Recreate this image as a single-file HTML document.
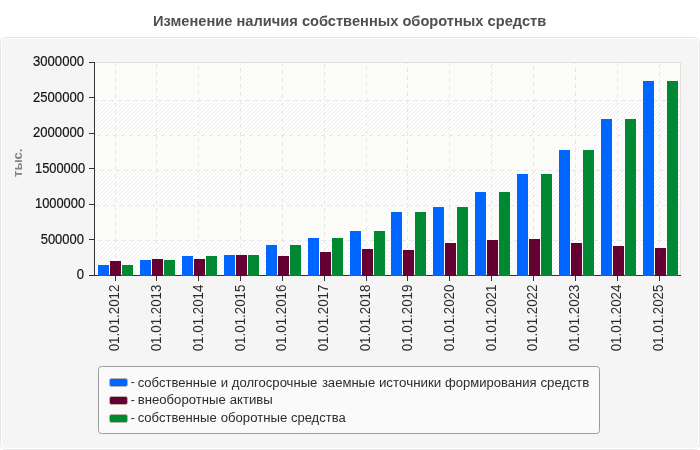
<!DOCTYPE html>
<html lang="ru"><head><meta charset="utf-8"><title>Изменение наличия собственных оборотных средств</title>
<style>
html,body{margin:0;padding:0;background:#fff;}
body{width:700px;height:450px;overflow:hidden;}
svg{display:block;}
text{font-family:"Liberation Sans",sans-serif;}
.t{font-size:15.5px;font-weight:bold;fill:#505050;}
.a{font-size:14.3px;fill:#141414;stroke:#141414;stroke-width:0.2px;}
.x{font-size:14.4px;fill:#2a2a2a;}
.l{font-size:13.7px;fill:#2c2c2c;}
.u{font-size:12.4px;font-weight:bold;fill:#858585;}
</style></head><body>
<svg width="700" height="450" viewBox="0 0 700 450">
<defs>
<pattern id="h1" width="4" height="4" patternUnits="userSpaceOnUse" patternTransform="translate(2,0)"><rect width="4" height="4" fill="#ffffff"/><path d="M0,3h1v1h-1z M1,2h1v1h-1z M2,1h1v1h-1z M3,0h1v1h-1z" fill="#ededed"/></pattern>
<pattern id="h2" width="4" height="4" patternUnits="userSpaceOnUse" patternTransform="translate(2,0)"><rect width="4" height="4" fill="#fefefa"/><path d="M0,3h1v1h-1z M1,2h1v1h-1z M2,1h1v1h-1z M3,0h1v1h-1z" fill="#f5f5f0"/></pattern>
<clipPath id="cp"><rect x="94" y="62" width="587" height="214"/></clipPath>
</defs>

<rect x="0.5" y="37.5" width="699" height="412" rx="5" ry="5" fill="#fff" stroke="#e6e6e6"/>
<rect x="2" y="39" width="696" height="409" rx="4" ry="4" fill="#f5f5f5"/>
<text class="t" x="153.1" y="25.7" textLength="393.1" lengthAdjust="spacingAndGlyphs">Изменение наличия собственных оборотных средств</text>
<rect x="95" y="62" width="586" height="214" fill="url(#h1)"/>
<rect x="95" y="62" width="586" height="38" fill="url(#h2)"/>
<rect x="95" y="135" width="586" height="35" fill="url(#h2)"/>
<rect x="95" y="205" width="586" height="35" fill="url(#h2)"/>
<path d="M95,62.5 H681 M680.5,62 V276" stroke="#e0e0e0" fill="none"/>
<g clip-path="url(#cp)" shape-rendering="crispEdges">
<path d="M86,100.5 H681" stroke="#e6e6e6" stroke-dasharray="4 4" fill="none"/>
<path d="M89,135.5 H681" stroke="#e6e6e6" stroke-dasharray="4 4" fill="none"/>
<path d="M84,170.5 H681" stroke="#e6e6e6" stroke-dasharray="4 4" fill="none"/>
<path d="M87,205.5 H681" stroke="#e6e6e6" stroke-dasharray="4 4" fill="none"/>
<path d="M90,240.5 H681" stroke="#e6e6e6" stroke-dasharray="4 4" fill="none"/>
<path d="M115.5,54 V275" stroke="#e6e6e6" stroke-dasharray="4 4" fill="none"/>
<path d="M156.5,56 V275" stroke="#e6e6e6" stroke-dasharray="4 4" fill="none"/>
<path d="M198.5,58 V275" stroke="#e6e6e6" stroke-dasharray="4 4" fill="none"/>
<path d="M240.5,60 V275" stroke="#e6e6e6" stroke-dasharray="4 4" fill="none"/>
<path d="M282.5,54 V275" stroke="#e6e6e6" stroke-dasharray="4 4" fill="none"/>
<path d="M324.5,56 V275" stroke="#e6e6e6" stroke-dasharray="4 4" fill="none"/>
<path d="M366.5,58 V275" stroke="#e6e6e6" stroke-dasharray="4 4" fill="none"/>
<path d="M407.5,60 V275" stroke="#e6e6e6" stroke-dasharray="4 4" fill="none"/>
<path d="M449.5,54 V275" stroke="#e6e6e6" stroke-dasharray="4 4" fill="none"/>
<path d="M491.5,56 V275" stroke="#e6e6e6" stroke-dasharray="4 4" fill="none"/>
<path d="M533.5,58 V275" stroke="#e6e6e6" stroke-dasharray="4 4" fill="none"/>
<path d="M575.5,60 V275" stroke="#e6e6e6" stroke-dasharray="4 4" fill="none"/>
<path d="M617.5,54 V275" stroke="#e6e6e6" stroke-dasharray="4 4" fill="none"/>
<path d="M659.5,56 V275" stroke="#e6e6e6" stroke-dasharray="4 4" fill="none"/>
</g>
<path d="M94.5,62 V276 M94,275.5 H681" stroke="#333" fill="none"/>
<path d="M89,62.5 H95" stroke="#333" fill="none"/>
<path d="M89,97.5 H95" stroke="#333" fill="none"/>
<path d="M89,133.5 H95" stroke="#333" fill="none"/>
<path d="M89,168.5 H95" stroke="#333" fill="none"/>
<path d="M89,204.5 H95" stroke="#333" fill="none"/>
<path d="M89,239.5 H95" stroke="#333" fill="none"/>
<path d="M89,275.5 H95" stroke="#333" fill="none"/>
<path d="M115.5,276 V281" stroke="#333" fill="none"/>
<path d="M156.5,276 V281" stroke="#333" fill="none"/>
<path d="M198.5,276 V281" stroke="#333" fill="none"/>
<path d="M240.5,276 V281" stroke="#333" fill="none"/>
<path d="M282.5,276 V281" stroke="#333" fill="none"/>
<path d="M324.5,276 V281" stroke="#333" fill="none"/>
<path d="M366.5,276 V281" stroke="#333" fill="none"/>
<path d="M407.5,276 V281" stroke="#333" fill="none"/>
<path d="M449.5,276 V281" stroke="#333" fill="none"/>
<path d="M491.5,276 V281" stroke="#333" fill="none"/>
<path d="M533.5,276 V281" stroke="#333" fill="none"/>
<path d="M575.5,276 V281" stroke="#333" fill="none"/>
<path d="M617.5,276 V281" stroke="#333" fill="none"/>
<path d="M659.5,276 V281" stroke="#333" fill="none"/>
<rect x="98" y="265" width="11" height="11" fill="#0066ff"/>
<rect x="110" y="261" width="11" height="15" fill="#660033"/>
<rect x="122" y="265" width="11" height="11" fill="#008833"/>
<rect x="140" y="260" width="11" height="16" fill="#0066ff"/>
<rect x="152" y="259" width="11" height="17" fill="#660033"/>
<rect x="164" y="260" width="11" height="16" fill="#008833"/>
<rect x="182" y="256" width="11" height="20" fill="#0066ff"/>
<rect x="194" y="259" width="11" height="17" fill="#660033"/>
<rect x="206" y="256" width="11" height="20" fill="#008833"/>
<rect x="224" y="255" width="11" height="21" fill="#0066ff"/>
<rect x="236" y="255" width="11" height="21" fill="#660033"/>
<rect x="248" y="255" width="11" height="21" fill="#008833"/>
<rect x="266" y="245" width="11" height="31" fill="#0066ff"/>
<rect x="278" y="256" width="11" height="20" fill="#660033"/>
<rect x="290" y="245" width="11" height="31" fill="#008833"/>
<rect x="308" y="238" width="11" height="38" fill="#0066ff"/>
<rect x="320" y="252" width="11" height="24" fill="#660033"/>
<rect x="332" y="238" width="11" height="38" fill="#008833"/>
<rect x="350" y="231" width="11" height="45" fill="#0066ff"/>
<rect x="362" y="249" width="11" height="27" fill="#660033"/>
<rect x="374" y="231" width="11" height="45" fill="#008833"/>
<rect x="391" y="212" width="11" height="64" fill="#0066ff"/>
<rect x="403" y="250" width="11" height="26" fill="#660033"/>
<rect x="415" y="212" width="11" height="64" fill="#008833"/>
<rect x="433" y="207" width="11" height="69" fill="#0066ff"/>
<rect x="445" y="243" width="11" height="33" fill="#660033"/>
<rect x="457" y="207" width="11" height="69" fill="#008833"/>
<rect x="475" y="192" width="11" height="84" fill="#0066ff"/>
<rect x="487" y="240" width="11" height="36" fill="#660033"/>
<rect x="499" y="192" width="11" height="84" fill="#008833"/>
<rect x="517" y="174" width="11" height="102" fill="#0066ff"/>
<rect x="529" y="239" width="11" height="37" fill="#660033"/>
<rect x="541" y="174" width="11" height="102" fill="#008833"/>
<rect x="559" y="150" width="11" height="126" fill="#0066ff"/>
<rect x="571" y="243" width="11" height="33" fill="#660033"/>
<rect x="583" y="150" width="11" height="126" fill="#008833"/>
<rect x="601" y="119" width="11" height="157" fill="#0066ff"/>
<rect x="613" y="246" width="11" height="30" fill="#660033"/>
<rect x="625" y="119" width="11" height="157" fill="#008833"/>
<rect x="643" y="81" width="11" height="195" fill="#0066ff"/>
<rect x="655" y="248" width="11" height="28" fill="#660033"/>
<rect x="667" y="81" width="11" height="195" fill="#008833"/>
<text class="a" x="84.0" y="65.8" text-anchor="end" textLength="51.0" lengthAdjust="spacingAndGlyphs">3000000</text>
<text class="a" x="84.0" y="101.8" text-anchor="end" textLength="51.0" lengthAdjust="spacingAndGlyphs">2500000</text>
<text class="a" x="84.0" y="136.8" text-anchor="end" textLength="51.0" lengthAdjust="spacingAndGlyphs">2000000</text>
<text class="a" x="85.1" y="172.8" text-anchor="end" textLength="50.1" lengthAdjust="spacingAndGlyphs">1500000</text>
<text class="a" x="85.1" y="207.8" text-anchor="end" textLength="50.1" lengthAdjust="spacingAndGlyphs">1000000</text>
<text class="a" x="84.0" y="243.8" text-anchor="end" textLength="43.3" lengthAdjust="spacingAndGlyphs">500000</text>
<text class="a" x="84.0" y="278.8" text-anchor="end" textLength="7.3" lengthAdjust="spacingAndGlyphs">0</text>
<text class="x" transform="translate(119.0,351.3) rotate(-90)" textLength="66.7" lengthAdjust="spacingAndGlyphs">01.01.2012</text>
<text class="x" transform="translate(161.0,351.3) rotate(-90)" textLength="66.7" lengthAdjust="spacingAndGlyphs">01.01.2013</text>
<text class="x" transform="translate(203.0,351.3) rotate(-90)" textLength="66.7" lengthAdjust="spacingAndGlyphs">01.01.2014</text>
<text class="x" transform="translate(245.0,351.3) rotate(-90)" textLength="66.7" lengthAdjust="spacingAndGlyphs">01.01.2015</text>
<text class="x" transform="translate(286.0,351.3) rotate(-90)" textLength="66.7" lengthAdjust="spacingAndGlyphs">01.01.2016</text>
<text class="x" transform="translate(328.0,351.3) rotate(-90)" textLength="66.7" lengthAdjust="spacingAndGlyphs">01.01.2017</text>
<text class="x" transform="translate(370.0,351.3) rotate(-90)" textLength="66.7" lengthAdjust="spacingAndGlyphs">01.01.2018</text>
<text class="x" transform="translate(412.0,351.3) rotate(-90)" textLength="66.7" lengthAdjust="spacingAndGlyphs">01.01.2019</text>
<text class="x" transform="translate(454.0,351.3) rotate(-90)" textLength="66.7" lengthAdjust="spacingAndGlyphs">01.01.2020</text>
<text class="x" transform="translate(496.0,351.3) rotate(-90)" textLength="66.7" lengthAdjust="spacingAndGlyphs">01.01.2021</text>
<text class="x" transform="translate(537.0,351.3) rotate(-90)" textLength="66.7" lengthAdjust="spacingAndGlyphs">01.01.2022</text>
<text class="x" transform="translate(579.0,351.3) rotate(-90)" textLength="66.7" lengthAdjust="spacingAndGlyphs">01.01.2023</text>
<text class="x" transform="translate(621.0,351.3) rotate(-90)" textLength="66.7" lengthAdjust="spacingAndGlyphs">01.01.2024</text>
<text class="x" transform="translate(663.0,351.3) rotate(-90)" textLength="66.7" lengthAdjust="spacingAndGlyphs">01.01.2025</text>
<text class="u" transform="translate(22,177) rotate(-90)" textLength="28.4" lengthAdjust="spacingAndGlyphs">тыс.</text>
<rect x="98.5" y="366.5" width="501" height="67" rx="3" ry="3" fill="#fafafa" stroke="#9c9c9c"/>
<rect x="109.5" y="378.5" width="18" height="8" rx="2" ry="2" fill="#0066ff" stroke="#b8b2aa"/>
<text class="l" y="386.8"><tspan x="130.8" dy="-0.7" textLength="4.1" lengthAdjust="spacingAndGlyphs">-</tspan> <tspan x="137.65" dy="0.7" textLength="79.03" lengthAdjust="spacingAndGlyphs">собственные</tspan> <tspan x="220.8" textLength="7.35" lengthAdjust="spacingAndGlyphs">и</tspan> <tspan x="231.77" textLength="85.6" lengthAdjust="spacingAndGlyphs">долгосрочные</tspan> <tspan x="321.89" textLength="53.39" lengthAdjust="spacingAndGlyphs">заемные</tspan> <tspan x="378.88" textLength="62.44" lengthAdjust="spacingAndGlyphs">источники</tspan> <tspan x="445.05" textLength="91.45" lengthAdjust="spacingAndGlyphs">формирования</tspan> <tspan x="540.44" textLength="48.84" lengthAdjust="spacingAndGlyphs">средств</tspan></text>
<rect x="109.5" y="396.5" width="18" height="8" rx="2" ry="2" fill="#660033" stroke="#b8b2aa"/>
<text class="l" y="403.8"><tspan x="130.8" dy="0.2" textLength="4.1" lengthAdjust="spacingAndGlyphs">-</tspan> <tspan x="137.69" dy="-0.2" textLength="88.09" lengthAdjust="spacingAndGlyphs">внеоборотные</tspan> <tspan x="229.74" textLength="43.08" lengthAdjust="spacingAndGlyphs">активы</tspan></text>
<rect x="109.5" y="414.5" width="18" height="8" rx="2" ry="2" fill="#008833" stroke="#b8b2aa"/>
<text class="l" y="421.8"><tspan x="130.8" dy="0.2" textLength="4.1" lengthAdjust="spacingAndGlyphs">-</tspan> <tspan x="137.65" dy="-0.2" textLength="79.03" lengthAdjust="spacingAndGlyphs">собственные</tspan> <tspan x="220.65" textLength="66.63" lengthAdjust="spacingAndGlyphs">оборотные</tspan> <tspan x="290.96" textLength="54.7" lengthAdjust="spacingAndGlyphs">средства</tspan></text>
</svg></body></html>
